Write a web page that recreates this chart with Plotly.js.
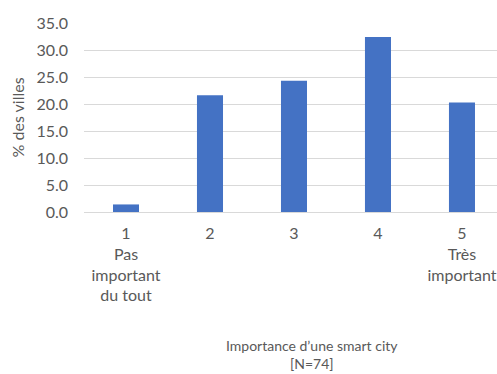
<!DOCTYPE html>
<html><head><meta charset="utf-8">
<script src="https://cdn.plot.ly/plotly-3.0.1.min.js"></script>
<style>html,body{margin:0;padding:0;background:#fff;}</style>
</head><body>
<div id="chart" style="width:497px;height:374px;"></div>
<script>
const categories = ["1", "2", "3", "4", "5"];
const tickLabels = ["1<br>Pas<br>important<br>du tout", "2", "3", "4", "5<br>Très<br>important"];
const values = [1.4, 21.6, 24.3, 32.4, 20.3];
const yTitle = "% des villes";
const xTitle = "Importance d’une smart city<br>[N=74]";

const font = "Lato, 'Open Sans', sans-serif";
const grey = "#595959";

Plotly.newPlot("chart", [{
  type: "bar",
  x: categories,
  y: values,
  width: 0.31,
  marker: {color: "#4472C4"},
  hoverinfo: "none"
}], {
  width: 497, height: 374,
  margin: {l: 84, r: 0, t: 23, b: 162},
  paper_bgcolor: "#fff", plot_bgcolor: "#fff",
  showlegend: false,
  font: {family: font, color: grey, size: 16},
  xaxis: {
    type: "category",
    range: [-0.5, 4.417],
    tickvals: categories,
    ticktext: tickLabels,
    ticks: "", showgrid: false, zeroline: false, showline: false,
    tickfont: {size: 16, color: grey},
    ticklabelstandoff: 10,
    fixedrange: true
  },
  yaxis: {
    range: [0, 35],
    dtick: 5,
    tickformat: ".1f",
    showgrid: true, gridcolor: "#d9d9d9", gridwidth: 1,
    zeroline: true, zerolinecolor: "#d9d9d9", zerolinewidth: 1,
    ticks: "", showline: false,
    tickfont: {size: 16, color: grey},
    ticklabelstandoff: 15,
    fixedrange: true
  },
  annotations: [
    {text: yTitle, xref: "paper", yref: "paper", x: -0.16, y: 0.5, textangle: -90,
     showarrow: false, xanchor: "center", yanchor: "middle", font: {size: 16, color: grey}},
    {text: xTitle, xref: "paper", yref: "paper", x: 0.552, y: -0.7566,
     showarrow: false, xanchor: "center", yanchor: "middle", borderpad: 0,
     font: {size: 14, color: grey}}
  ]
}, {displayModeBar: false, staticPlot: true});
</script>
</body></html>
